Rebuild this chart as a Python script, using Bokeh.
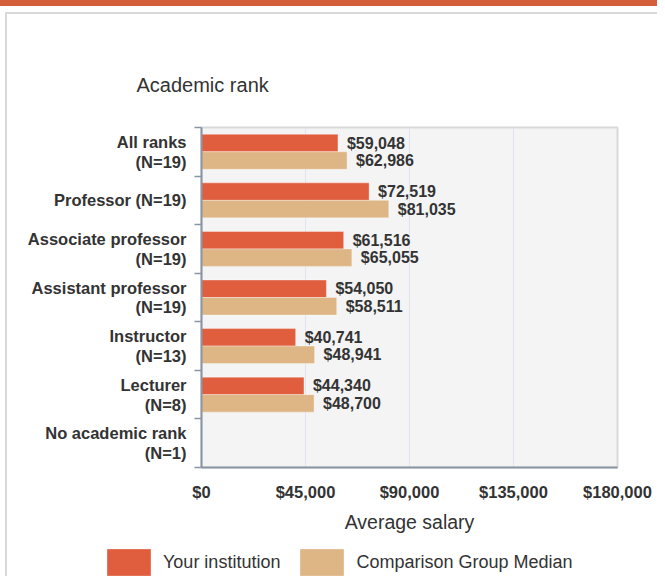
import numpy as np
from bokeh.plotting import figure
from bokeh.layouts import column
from bokeh.models import (ColumnDataSource, FixedTicker, NumeralTickFormatter, Range1d,
                          Legend, LegendItem, Title, InlineStyleSheet)
from bokeh.core.properties import value
from bokeh.embed import file_html
from bokeh.resources import INLINE

# ---- data ----
categories = ["All ranks\n(N=19)", "Professor (N=19)", "Associate professor\n(N=19)",
              "Assistant professor\n(N=19)", "Instructor\n(N=13)", "Lecturer\n(N=8)",
              "No academic rank\n(N=1)"]
your_institution = [59048, 72519, 61516, 54050, 40741, 44340, None]
comparison_median = [62986, 81035, 65055, 58511, 48941, 48700, None]
x_ticks = [0, 45000, 90000, 135000, 180000]
series_names = ["Your institution", "Comparison Group Median"]
series_colors = ["#E05E3E", "#DEB585"]

FONT = "Liberation Sans"
TXT = "#333333"

W = 657
H_MAIN, H_LEG = 540, 36
FL, FT, FW, FH = 201, 127, 416, 340   # frame in page px
XMAX = x_ticks[-1]
N = len(categories)

p = figure(width=W, height=H_MAIN, output_backend="svg", toolbar_location=None,
           x_range=Range1d(0, XMAX), y_range=Range1d(N, 0),
           min_border_left=FL, min_border_right=W - FL - FW,
           min_border_top=FT, min_border_bottom=H_MAIN - FT - FH)
p.frame_align = False
p.background_fill_color = "#F4F4F4"
p.border_fill_alpha = 0
p.outline_line_color = "#D9D9D9"
p.outline_line_width = 2

centers = np.arange(N) + 0.5
off = 0.18
bh = 0.36

def clean(vals):
    return [np.nan if v is None else v for v in vals]

bar_style = dict(line_color="white", line_alpha=0.35, line_width=1)
for k, (vals, col) in enumerate(zip([your_institution, comparison_median], series_colors)):
    ys = centers + (-off if k == 0 else off)
    src = ColumnDataSource(dict(y=ys, right=clean(vals)))
    p.hbar(y="y", right="right", left=0, height=bh, source=src, fill_color=col, **bar_style)
    lab_x = [v for v in vals if v is not None]
    lab_y = [y for y, v in zip(ys, vals) if v is not None]
    lab_t = ["${:,}".format(v) for v in vals if v is not None]
    tsrc = ColumnDataSource(dict(x=lab_x, y=lab_y, t=lab_t))
    p.text(x="x", y="y", text="t", source=tsrc, x_offset=9, text_baseline="middle",
           text_align="left", text_font=value(FONT), text_font_style="bold",
           text_font_size="16px", text_color=TXT)

# x axis
p.xaxis.ticker = FixedTicker(ticks=x_ticks)
p.xaxis.formatter = NumeralTickFormatter(format="$0,0")
p.xaxis.major_tick_line_color = None
p.xaxis.minor_tick_line_color = None
p.xaxis.major_tick_out = 0
p.xaxis.major_tick_in = 0
p.xaxis.axis_line_color = "#8A95A3"
p.xaxis.axis_line_width = 2
p.xaxis.major_label_standoff = 15
p.xaxis.major_label_text_font = FONT
p.xaxis.major_label_text_font_style = "bold"
p.xaxis.major_label_text_font_size = "16.5px"
p.xaxis.major_label_text_color = TXT
p.xaxis.axis_label = "Average salary"
p.xaxis.axis_label_text_font = FONT
p.xaxis.axis_label_text_font_style = "normal"
p.xaxis.axis_label_text_font_size = "19.5px"
p.xaxis.axis_label_text_color = TXT
p.xaxis.axis_label_standoff = 7

# y axis
p.yaxis.ticker = FixedTicker(ticks=list(centers), minor_ticks=list(np.arange(N + 1)))
p.yaxis.major_label_overrides = {float(c): lab for c, lab in zip(centers, categories)}
p.yaxis.major_tick_out = 0
p.yaxis.major_tick_in = 0
p.yaxis.major_tick_line_color = None
p.yaxis.minor_tick_out = 7
p.yaxis.minor_tick_in = 0
p.yaxis.minor_tick_line_color = "#8A95A3"
p.yaxis.minor_tick_line_width = 1.5
p.yaxis.axis_line_color = "#8A95A3"
p.yaxis.axis_line_width = 2
p.yaxis.major_label_standoff = 8
p.yaxis.major_label_text_font = FONT
p.yaxis.major_label_text_font_style = "bold"
p.yaxis.major_label_text_font_size = "16.5px"
p.yaxis.major_label_text_line_height = 1.1
p.yaxis.major_label_text_color = TXT

p.xgrid.ticker = FixedTicker(ticks=x_ticks)
p.xgrid.grid_line_color = "#DFE5EE"
p.xgrid.grid_line_width = 1
p.ygrid.grid_line_color = None

# "Academic rank" heading above the frame
p.add_layout(Title(text="Academic rank", align="left", offset=-65, standoff=64,
                   text_font=FONT, text_font_size="20px", text_font_style="normal",
                   text_color=TXT), "above")

# ---- legend strip (separate small figure underneath) ----
q = figure(width=W, height=H_LEG, output_backend="svg", toolbar_location=None,
           x_range=Range1d(0, 1), y_range=Range1d(0, 1), x_axis_type=None, y_axis_type=None,
           min_border=0)
q.frame_align = False
q.outline_line_color = None
q.border_fill_alpha = 0
q.background_fill_alpha = 0
# legend-only renderers (their single row holds no drawable value)
leg_renderers = [q.hbar(y=[np.nan], right=[np.nan], left=0, height=1, fill_color=c, **bar_style)
                 for c in series_colors]
legend = Legend(items=[LegendItem(label=n, renderers=[r])
                       for n, r in zip(series_names, leg_renderers)],
                orientation="horizontal", location=(101, -3),
                glyph_width=55, glyph_height=34, label_standoff=7, spacing=14,
                padding=0, margin=0, border_line_color=None, background_fill_alpha=0,
                label_text_font=FONT, label_text_font_size="18px", label_text_color=TXT)
q.add_layout(legend, "center")

page = column(p, q, spacing=0)
# page decorations: orange strip on top and light grey box edge (CSS shadows behind canvas)
page.stylesheets = [InlineStyleSheet(css=(
    ":host { background-color: #FFFFFF; box-shadow: inset 0 6px 0 0 #D45F3A, "
    "inset 5px 12px 0 0 #FFFFFF, inset 7px 14px 0 0 #D9D9D9; }"))]

open("out.html", "w").write(file_html(page, INLINE))
